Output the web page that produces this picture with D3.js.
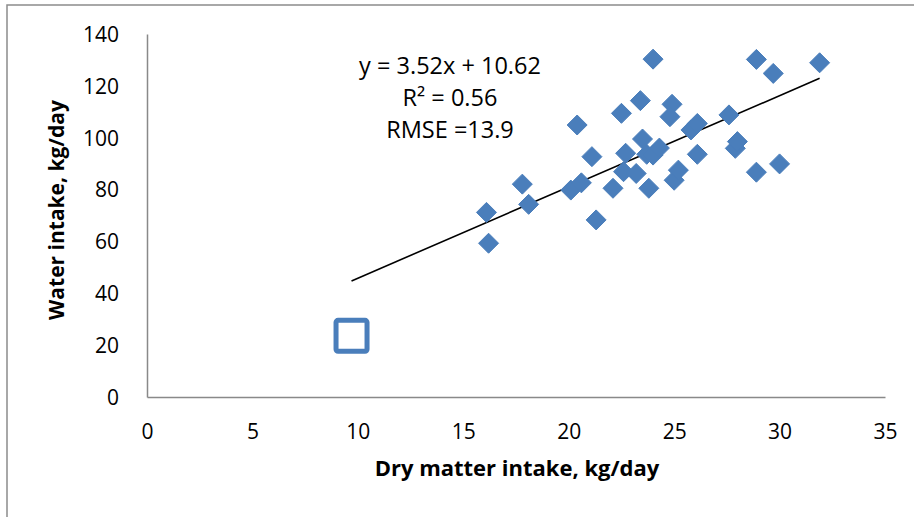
<!DOCTYPE html>
<html>
<head>
<meta charset="utf-8">
<script src="https://cdn.jsdelivr.net/npm/d3@7"></script>
<style>
  html, body { margin: 0; padding: 0; background: #fff; }
  svg { display: block; font-family: "Open Sans", Lato, sans-serif; }
</style>
</head>
<body>
<svg id="chart" width="914" height="517"></svg>
<script>
// Dry matter intake (kg/day) and water intake (kg/day) per observation
const dmi = [16.1, 16.2, 17.8, 18.1, 20.1, 20.6, 20.4, 21.1, 21.3, 22.1, 22.5, 22.7, 22.6, 23.2,
  23.4, 23.5, 23.7, 24.0, 24.3, 23.8, 24.0, 24.9, 24.8, 25.0, 25.2, 25.8, 26.1, 26.1,
  27.6, 27.9, 28.0, 28.9, 28.9, 29.7, 30.0, 31.9];
const water = [71.2, 59.3, 82.1, 74.3, 79.8, 82.6, 104.9, 92.7, 68.3, 80.5, 109.4, 94.0, 86.9, 86.2,
  114.3, 99.5, 93.6, 93.3, 96.0, 80.5, 130.3, 112.9, 108.1, 83.6, 87.5, 103.0, 105.5, 93.6,
  108.8, 95.9, 98.5, 130.2, 86.7, 124.8, 89.9, 128.9];

// Separate observation drawn as an open square
const outlier = { dmi: 9.7, water: 23.6 };

// Fitted regression
const slope = 3.52, intercept = 10.62;
const fitRange = [9.7, 31.9];
const fitLabels = ["y = 3.52x + 10.62", "R² = 0.56", "RMSE =13.9"];

const xTicks = [0, 5, 10, 15, 20, 25, 30, 35];
const yTicks = [0, 20, 40, 60, 80, 100, 120, 140];

const svg = d3.select("#chart");
const blue = "#4a7ebb";
const axisGrey = "#898989";
const font = "'Open Sans', Lato, sans-serif";

// Outer chart frame
svg.append("rect")
  .attr("x", 7).attr("y", 5).attr("width", 940).attr("height", 540)
  .attr("fill", "none").attr("stroke", "#8c8c8c").attr("stroke-width", 1.5);

const x = d3.scaleLinear().domain([0, 35]).range([147, 885]);
const y = d3.scaleLinear().domain([0, 140]).range([397, 34]);

// Axes without tick marks
const xAxis = svg.append("g").attr("transform", `translate(0,${y(0)})`)
  .call(d3.axisBottom(x).tickValues(xTicks).tickSize(0).tickPadding(27).tickFormat(d3.format("d")));
const yAxis = svg.append("g").attr("transform", `translate(${x(0)},0)`)
  .call(d3.axisLeft(y).tickValues(yTicks).tickSize(0).tickPadding(28).tickFormat(d3.format("d")));
[xAxis, yAxis].forEach(g => {
  g.select(".domain").attr("stroke", axisGrey).attr("stroke-width", 1.5);
  g.selectAll("text").attr("font-family", font)
    .attr("font-size", 21).attr("fill", "#000");
});
yAxis.selectAll("text").attr("dy", "0.35em");

// Axis titles
svg.append("text")
  .attr("x", 517).attr("y", 476)
  .attr("text-anchor", "middle")
  .attr("font-size", 22).attr("font-weight", "bold")
  .text("Dry matter intake, kg/day");
svg.append("text")
  .attr("transform", "translate(64,210) rotate(-90)")
  .attr("text-anchor", "middle")
  .attr("font-size", 21).attr("font-weight", "bold")
  .text("Water intake, kg/day");

// Regression line
svg.append("line")
  .attr("x1", x(fitRange[0])).attr("y1", y(slope * fitRange[0] + intercept))
  .attr("x2", x(fitRange[1])).attr("y2", y(slope * fitRange[1] + intercept))
  .attr("stroke", "#000").attr("stroke-width", 1.6);

// Diamond markers
const r = 10;
const diamond = `M0,${-r}L${r},0L0,${r}L${-r},0Z`;
svg.append("g").selectAll("path")
  .data(dmi.map((d, i) => [d, water[i]]))
  .join("path")
  .attr("d", diamond)
  .attr("transform", d => `translate(${x(d[0])},${y(d[1])})`)
  .attr("fill", blue)
  .attr("stroke", blue).attr("stroke-width", 1).attr("stroke-linejoin", "round");

// Open square marker
const s = 31;
svg.append("rect")
  .attr("x", x(outlier.dmi) - s / 2).attr("y", y(outlier.water) - s / 2)
  .attr("width", s).attr("height", s).attr("rx", 2)
  .attr("fill", "#fff").attr("stroke", blue).attr("stroke-width", 5);

// Equation and fit statistics
svg.append("g").selectAll("text")
  .data(fitLabels)
  .join("text")
  .attr("x", 450).attr("y", (d, i) => 74 + i * 32)
  .attr("text-anchor", "middle")
  .attr("font-size", 23.5).attr("fill", "#000")
  .text(d => d);
</script>
</body>
</html>
